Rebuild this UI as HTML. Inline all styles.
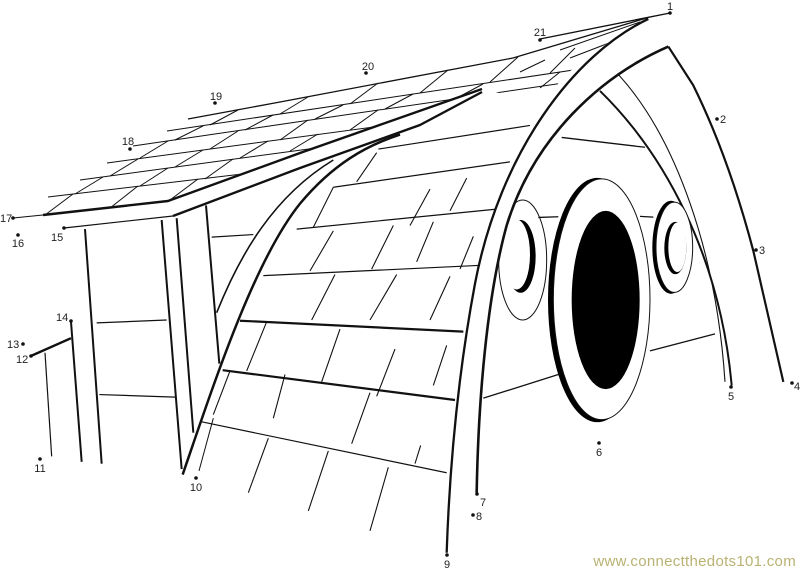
<!DOCTYPE html>
<html><head><meta charset="utf-8"><style>
html,body{margin:0;padding:0;background:#fff;}
svg{display:block;}
text{font-family:"Liberation Sans",sans-serif;font-size:11px;fill:#222;}
.t *{vector-effect:non-scaling-stroke;}
</style></head><body>
<svg width="800" height="571" viewBox="0 0 800 571" xmlns="http://www.w3.org/2000/svg">
<defs>
<clipPath id="roofclip"><polygon points="0,0 660,0 650,17 600,48 565,75 545,100 480,90 300,153 168,201 43,215 0,216"/></clipPath>
</defs>
<rect width="800" height="571" fill="#fff"/>

<!-- roof rows -->
<g clip-path="url(#roofclip)" stroke="#111" fill="none" stroke-width="1">
<line x1="48" y1="197" x2="700" y2="120"/>
<line x1="80" y1="180" x2="700" y2="96"/>
<line x1="107" y1="163" x2="700" y2="83"/>
<line x1="133" y1="146" x2="700" y2="63"/>
<line x1="167" y1="131" x2="700" y2="51"/>
<polyline points="188,119 280,102 513,58 650,17" stroke-width="1.3"/>
<line x1="560" y1="50" x2="640" y2="22"/>
<line x1="570" y1="58" x2="635" y2="33"/>
<!-- shingle strokes -->
<line x1="45" y1="215" x2="73" y2="194"/><line x1="110" y1="208" x2="138" y2="186"/><line x1="170" y1="200" x2="198" y2="179"/>
<line x1="75" y1="194" x2="103" y2="177"/><line x1="140" y1="186" x2="168" y2="168"/><line x1="205" y1="179" x2="233" y2="159"/>
<line x1="110" y1="176" x2="138" y2="159"/><line x1="175" y1="167" x2="203" y2="150"/><line x1="240" y1="158" x2="268" y2="141"/><line x1="290" y1="151" x2="318" y2="134"/>
<line x1="140" y1="158" x2="168" y2="141"/><line x1="210" y1="149" x2="238" y2="131"/><line x1="280" y1="140" x2="308" y2="120"/><line x1="350" y1="130" x2="378" y2="110"/>
<line x1="175" y1="140" x2="203" y2="126"/><line x1="245" y1="130" x2="273" y2="115"/><line x1="315" y1="119" x2="343" y2="105"/><line x1="385" y1="109" x2="413" y2="94"/><line x1="455" y1="99" x2="483" y2="84"/>
<line x1="210" y1="125" x2="238" y2="110"/><line x1="280" y1="114" x2="308" y2="97"/><line x1="350" y1="104" x2="378" y2="83"/><line x1="420" y1="93" x2="448" y2="70"/><line x1="490" y1="82" x2="518" y2="57"/><line x1="550" y1="73" x2="575" y2="48"/>
<line x1="520" y1="72" x2="545" y2="60"/><line x1="540" y1="88" x2="560" y2="72"/>
</g>

<!-- eaves (full coords) -->
<g stroke="#111" fill="none" stroke-linejoin="round">
<line x1="13" y1="218" x2="43" y2="215" stroke-width="1"/>
<polyline points="43,215 168,201 300,153 482,89" stroke-width="2.4"/>
<polyline points="173,216 300,168 420,125 482,92" stroke-width="2.4"/>
<line x1="64" y1="228" x2="173" y2="216" stroke-width="1.2"/>
<line x1="540" y1="39" x2="670" y2="13" stroke-width="1.4"/>
</g>

<!-- left group (zoom2 coords) -->
<g class="t" transform="scale(0.33333,0.363636)" stroke="#111" fill="none">
<line x1="255" y1="630" x2="305" y2="1275" stroke-width="2"/>
<line x1="213" y1="885" x2="245" y2="1270" stroke-width="2"/>
<line x1="135" y1="970" x2="155" y2="1255" stroke-width="1.2"/>
<line x1="485" y1="605" x2="545" y2="1290" stroke-width="2"/>
<line x1="530" y1="600" x2="580" y2="1190" stroke-width="2"/>
<line x1="618" y1="565" x2="658" y2="1000" stroke-width="2"/>
<line x1="95" y1="978" x2="213" y2="930" stroke-width="2.4"/>
<line x1="290" y1="888" x2="500" y2="880" stroke-width="1.2"/>
<line x1="298" y1="1085" x2="525" y2="1092" stroke-width="1.2"/>
<line x1="635" y1="652" x2="760" y2="645" stroke-width="1.2"/>
<!-- front curves -->
<path d="M650,860 C720,700 820,540 1000,440" stroke-width="1.6"/>
<path d="M548,1305 C640,1060 760,720 900,560 C1000,450 1100,400 1200,370" stroke-width="2.5"/>
<line x1="597" y1="1295" x2="640" y2="1150" stroke-width="1"/>
<!-- siding horizontals -->
<line x1="890" y1="630" x2="1490" y2="575" stroke-width="1.2"/>
<line x1="790" y1="758" x2="1435" y2="730" stroke-width="1.2"/>
<line x1="720" y1="882" x2="1390" y2="912" stroke-width="2.2"/>
<line x1="668" y1="1018" x2="1365" y2="1100" stroke-width="2.2"/>
<line x1="605" y1="1160" x2="1340" y2="1300" stroke-width="1.2"/>
<line x1="1000" y1="515" x2="1530" y2="445" stroke-width="1.2"/>
<line x1="1135" y1="410" x2="1590" y2="345" stroke-width="1.2"/>
<!-- siding slants -->
<g stroke-width="1.1">
<line x1="745" y1="1355" x2="805" y2="1205"/>
<line x1="925" y1="1405" x2="985" y2="1240"/>
<line x1="1110" y1="1460" x2="1165" y2="1285"/>
<line x1="1055" y1="1220" x2="1110" y2="1080"/>
<line x1="1245" y1="1275" x2="1262" y2="1225"/>
<line x1="640" y1="1140" x2="690" y2="1020"/>
<line x1="740" y1="1020" x2="800" y2="885"/>
<line x1="820" y1="1150" x2="855" y2="1030"/>
<line x1="965" y1="1050" x2="1020" y2="905"/>
<line x1="1130" y1="1090" x2="1185" y2="960"/>
<line x1="935" y1="880" x2="1005" y2="755"/>
<line x1="1110" y1="880" x2="1190" y2="755"/>
<line x1="930" y1="745" x2="1000" y2="635"/>
<line x1="1115" y1="740" x2="1180" y2="620"/>
<line x1="1070" y1="500" x2="1130" y2="420"/>
<line x1="940" y1="625" x2="1000" y2="515"/>
<line x1="1250" y1="720" x2="1300" y2="610"/>
<line x1="1290" y1="880" x2="1350" y2="760"/>
<line x1="1300" y1="1060" x2="1340" y2="950"/>
<line x1="1230" y1="620" x2="1290" y2="520"/>
<line x1="1350" y1="580" x2="1400" y2="490"/>
<line x1="1380" y1="740" x2="1420" y2="650"/>
</g>
</g>

<!-- right group (zoom1 coords) -->
<g class="t" transform="translate(400,0) scale(0.33333,0.363636)" stroke="#111">
<!-- left window -->
<ellipse cx="368" cy="715" rx="72" ry="165" fill="#fff" stroke-width="1"/>
<ellipse cx="362" cy="705" rx="45" ry="100" fill="#000" stroke="none"/>
<ellipse cx="350" cy="700" rx="40" ry="96" fill="#fff" stroke="none"/>
<!-- band between arches -->
<path d="M745,52 C520,150 300,420 225,780 C180,1000 150,1250 140,1520 L230,1355 C235,1100 260,820 320,620 C400,380 600,210 805,128 Z" fill="#fff" stroke="none"/>
<path d="M745,52 C520,150 300,420 225,780 C180,1000 150,1250 140,1520" fill="none" stroke-width="2.3"/>
<path d="M805,128 C600,210 400,380 320,620 C260,820 235,1100 230,1355" fill="none" stroke-width="2.6"/>
<path d="M805,128 L880,235 Q985,430 1060,690 L1150,1050" fill="none" stroke-width="2.2"/>
<path d="M655,205 C830,380 950,700 975,1050" fill="none" stroke-width="1.1"/>
<path d="M600,250 C790,420 960,700 995,1060" fill="none" stroke-width="2"/>
<!-- horizontals -->
<g fill="none" stroke-width="1.3">
<line x1="485" y1="378" x2="735" y2="405"/>
<line x1="415" y1="598" x2="475" y2="596"/>
<line x1="720" y1="595" x2="760" y2="597"/>
<line x1="750" y1="965" x2="945" y2="918"/>
<line x1="250" y1="1095" x2="475" y2="1030"/>
</g>
<!-- big window -->
<ellipse cx="592" cy="825" rx="148" ry="336" fill="#000" stroke="none"/>
<ellipse cx="605" cy="823" rx="145" ry="331" fill="#fff" stroke-width="1"/>
<ellipse cx="617" cy="825" rx="102" ry="245" fill="#000" stroke="none"/>
<!-- right small window -->
<ellipse cx="813" cy="680" rx="56" ry="128" fill="#000" stroke="none"/>
<ellipse cx="823" cy="680" rx="55" ry="124" fill="#fff" stroke-width="1"/>
<ellipse cx="826" cy="682" rx="33" ry="72" fill="#000" stroke="none"/>
<ellipse cx="832" cy="680" rx="27" ry="68" fill="#fff" stroke="none"/>
</g>

<!-- dots -->
<g fill="#111">
<circle cx="670" cy="13" r="1.8"/><circle cx="717" cy="119" r="1.8"/><circle cx="756" cy="250" r="1.8"/><circle cx="792" cy="383" r="1.8"/>
<circle cx="731" cy="387" r="1.8"/><circle cx="599" cy="443" r="1.8"/><circle cx="477" cy="494" r="1.8"/><circle cx="473" cy="515" r="1.8"/>
<circle cx="447" cy="555" r="1.8"/><circle cx="196" cy="478" r="1.8"/><circle cx="40" cy="459" r="1.8"/><circle cx="31" cy="356" r="1.8"/>
<circle cx="23" cy="344" r="1.8"/><circle cx="71" cy="321" r="1.8"/><circle cx="64" cy="228" r="1.8"/><circle cx="18" cy="235" r="1.8"/>
<circle cx="13" cy="218" r="1.8"/><circle cx="130" cy="149" r="1.8"/><circle cx="215" cy="103" r="1.8"/><circle cx="366" cy="73" r="1.8"/>
<circle cx="540" cy="40" r="1.8"/>
</g>
<g>
<text x="670" y="10" text-anchor="middle">1</text>
<text x="720" y="123">2</text>
<text x="759" y="254">3</text>
<text x="794" y="390">4</text>
<text x="731" y="400" text-anchor="middle">5</text>
<text x="599" y="456" text-anchor="middle">6</text>
<text x="480" y="506">7</text>
<text x="476" y="520">8</text>
<text x="447" y="568" text-anchor="middle">9</text>
<text x="196" y="491" text-anchor="middle">10</text>
<text x="40" y="472" text-anchor="middle">11</text>
<text x="16" y="363">12</text>
<text x="7" y="348">13</text>
<text x="56" y="321">14</text>
<text x="51" y="241">15</text>
<text x="18" y="247" text-anchor="middle">16</text>
<text x="0" y="222">17</text>
<text x="128" y="145" text-anchor="middle">18</text>
<text x="216" y="100" text-anchor="middle">19</text>
<text x="368" y="70" text-anchor="middle">20</text>
<text x="540" y="36" text-anchor="middle">21</text>
</g>
<text x="796" y="566" text-anchor="end" style="font-size:15px;fill:#b9b273;letter-spacing:0.3px">www.connectthedots101.com</text>
</svg>
</body></html>
